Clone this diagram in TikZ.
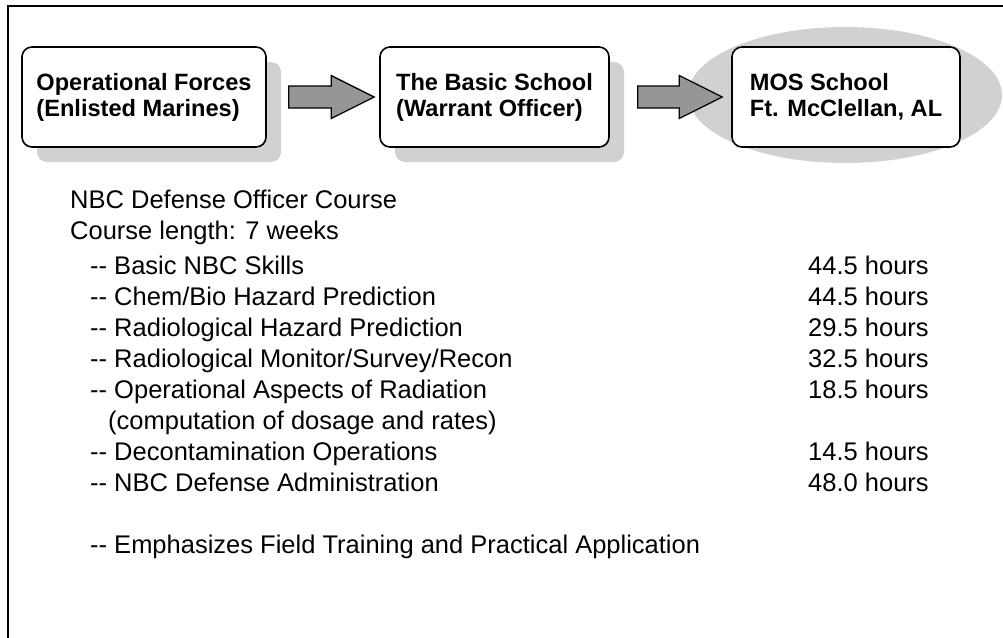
\documentclass[tikz,border=0pt]{standalone}
\usepackage{fontspec}
\setmainfont{Liberation Sans}
\usetikzlibrary{calc}
\usetikzlibrary{shadows}

\definecolor{shadegray}{gray}{0.82}
\definecolor{arrowgray}{gray}{0.59}

\tikzset{
  stage/.style={draw, line width=1.6pt, rounded corners=10pt, fill=white,
    minimum width=#1, minimum height=100pt, align=left, inner sep=0pt,
    font=\fontsize{23.6}{26}\selectfont\bfseries},
  shaded/.style={drop shadow={shadow xshift=15pt, shadow yshift=-15pt,
    fill=shadegray, opacity=1}},
  blockarrow/.style={draw, line width=1.3pt, fill=arrowgray, line join=miter},
  body/.style={anchor=base west, inner sep=0pt,
    font=\fontsize{25.5}{31}\selectfont},
}

\begin{document}
\begin{tikzpicture}[x=1pt,y=-1pt]
        \useasboundingbox (0,0) rectangle (1003,637);
        % frame, only top and left edges inside the page
        \begin{scope}
        \clip (0,0) rectangle (1003,637);
        \draw[line width=2pt] (8,660) -- (8,6) -- (1030,6);
        \end{scope}
        \fill[shadegray] (845,95) ellipse [x radius=157, y radius=68];
        \node[stage=244pt,shaded] (ops) at (144,97) {Operational Forces\\(Enlisted Marines)};
        \node[stage=229pt,shaded] (tbs) at (494.5,97) {The Basic School\\(Warrant Officer)};
        \node[stage=228pt] (mos) at (846,97) {MOS School\\Ft. McClellan, AL};
        % block arrows
        \foreach \a/\b/\s/\e in {ops/tbs/22/5, tbs/mos/28/9} {
          \coordinate (\a-out) at ($(\a.east)+(\s,0)$);
          \coordinate (\b-in) at ($(\b.west)+(-\e,0)$);
          \draw[blockarrow] ($(\a-out)+(0,-11)$) -- ($(\b-in)+(-43,-11)$)
            -- ($(\b-in)+(-43,-21.5)$) -- (\b-in) -- ($(\b-in)+(-43,21.5)$)
            -- ($(\b-in)+(-43,11)$) -- ($(\a-out)+(0,11)$) -- cycle;
        }
        \node[body] (title) at (70,208) {NBC Defense Officer Course};
        \node[body] (length) at (70,239) {Course length: 7 weeks};
        \foreach \y/\topic/\hrs [count=\i] in {
            274/{Basic NBC Skills}/44.5,
            305/{Chem/Bio Hazard Prediction}/44.5,
            336/{Radiological Hazard Prediction}/29.5,
            367/{Radiological Monitor/Survey/Recon}/32.5,
            398/{Operational Aspects of Radiation}/18.5,
            460/{Decontamination Operations}/14.5,
            491/{NBC Defense Administration}/48.0} {
          \node[body] (topic\i) at (90,\y) {-{}- \topic};
          \node[body] (hours\i) at (808,\y) {\hrs\ hours};
        }
        \node[body] (note) at (108,429) {(computation of dosage and rates)};
        \node[body] (field) at (90,553) {-{}- Emphasizes Field Training and Practical Application};
    \end{tikzpicture}
\end{document}
